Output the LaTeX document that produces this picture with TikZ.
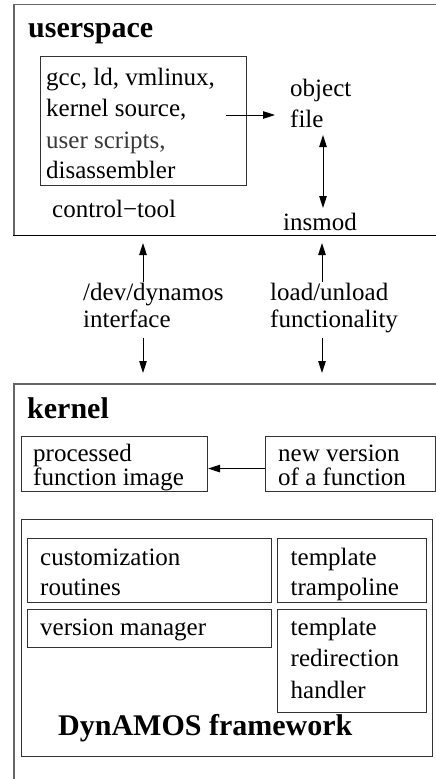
\documentclass[tikz,border=0pt]{standalone}
\usepackage{fontspec}
\setmainfont{Liberation Serif}
\usetikzlibrary{arrows.meta}
\begin{document}
\begin{tikzpicture}[x=1pt,y=-1pt,
  txt/.style={anchor=base west, inner sep=0pt, font=\fontsize{25}{30}\selectfont},
  ttl/.style={anchor=base west, inner sep=0pt, font=\fontsize{30}{36}\selectfont\bfseries},
  outer/.style={draw=black!60, line width=1.3pt},
  box/.style={draw=black!80, line width=1.1pt, anchor=north west, inner sep=0pt},
  arr/.style={-{Triangle[length=12pt,width=7.5pt]}, line width=1pt},
  darr/.style={{Triangle[length=12pt,width=7.5pt]}-{Triangle[length=12pt,width=7.5pt]}, line width=1pt}]
\useasboundingbox (0,0) rectangle (436,779);
% outer regions
\draw[outer] (437,4.5) -- (14,4.5) -- (14,235.5);
\draw[draw=black, line width=1.4pt] (13.4,235.5) -- (437,235.5);
\draw[outer] (437,384) -- (14,384) -- (14,780);
% boxes
\node[box, minimum width=206pt, minimum height=129pt] (gccbox) at (40,56) {};
\node[box, minimum width=186pt, minimum height=55pt] (procbox) at (21,436) {};
\node[box, minimum width=170pt, minimum height=55pt] (newvbox) at (265,436) {};
\node[box, minimum width=411pt, minimum height=237pt] (dynbox) at (20.5,519) {};
\node[box, minimum width=244pt, minimum height=64pt] (custbox) at (27,538) {};
\node[box, minimum width=149pt, minimum height=64pt] (trampbox) at (277,538) {};
\node[box, minimum width=244pt, minimum height=38pt] (vmbox) at (27,609) {};
\node[box, minimum width=149pt, minimum height=103pt] (redirbox) at (277,609) {};
% titles
\node[ttl] (us) at (28,37) {userspace};
\node[ttl] (kern) at (27,418) {kernel};
\node[ttl] (dyn) at (58,735) {DynAMOS framework};
% userspace texts
\node[txt] (g1) at (46,85) {gcc, ld, vmlinux,};
\node[txt] (g2) at (46,116.7) {kernel source,};
\node[txt, text=black!78] (g3) at (46,148) {user scripts,};
\node[txt] (g4) at (46,178.3) {disassembler};
\node[txt] (ctl) at (52,217) {control−tool};
\node[txt] (obj1) at (290,96) {object};
\node[txt] (obj2) at (290,127) {file};
\node[txt] (ins) at (283,230) {insmod};
% interface labels
\node[txt] (dev1) at (83,300) {/dev/dynamos};
\node[txt] (dev2) at (83,327) {interface};
\node[txt] (ld1) at (270,300) {load/unload};
\node[txt] (ld2) at (270,327) {functionality};
% kernel texts
\node[txt] (p1) at (33,461) {processed};
\node[txt] (p2) at (33,485) {function image};
\node[txt] (n1) at (278,461) {new version};
\node[txt] (n2) at (278,485) {of a function};
\node[txt] (c1) at (40,565) {customization};
\node[txt] (c2) at (40,595) {routines};
\node[txt] (t1) at (290.5,565) {template};
\node[txt] (t2) at (290.5,595) {trampoline};
\node[txt] (v1) at (40,635) {version manager};
\node[txt] (r1) at (290.5,635) {template};
\node[txt] (r2) at (290.5,666.7) {redirection};
\node[txt] (r3) at (290.5,698.3) {handler};
% connector end points
\coordinate (gccout) at (226,115);
\coordinate (objin) at (275,115);
\coordinate (objbot) at (323,135);
\coordinate (instop) at (323,208);
\coordinate (u1) at (143,243);
\coordinate (u1t) at (143,282);
\coordinate (d1t) at (143,338);
\coordinate (d1) at (143,373);
\coordinate (u2) at (322,243);
\coordinate (u2t) at (322,282);
\coordinate (d2t) at (322,338);
\coordinate (d2) at (322,373);
% connectors
\draw[arr] (gccout) -- (objin);
\draw[darr] (objbot) -- (instop);
\draw[arr] (u1t) -- (u1);
\draw[arr] (d1t) -- (d1);
\draw[arr] (u2t) -- (u2);
\draw[arr] (d2t) -- (d2);
\draw[arr] ([yshift=-4.5pt]newvbox.west) -- ([yshift=-4.5pt]procbox.east);
\end{tikzpicture}
\end{document}
